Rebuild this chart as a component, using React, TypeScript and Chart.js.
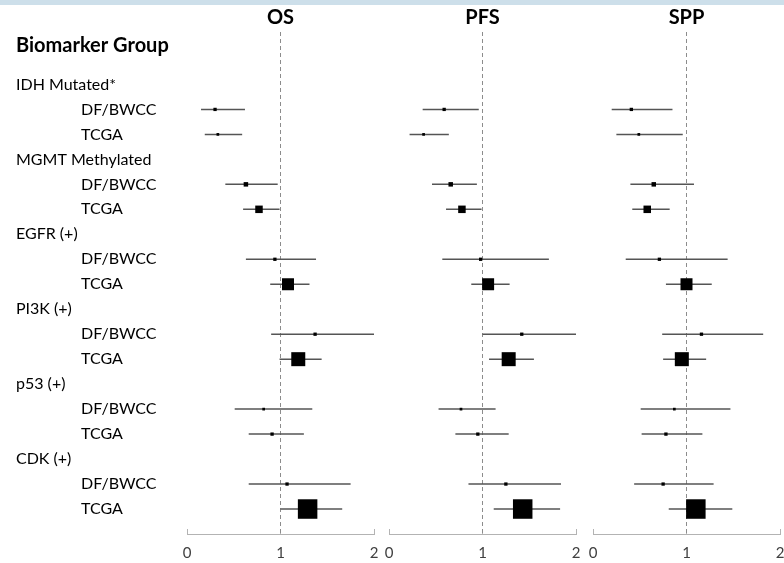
import { useEffect, useRef } from 'react';
import { Chart, registerables } from 'chart.js';

Chart.register(...registerables);

// ---------- data ----------
const headerLabel = 'Biomarker Group';
const groupLabels = ['IDH Mutated*', 'MGMT Methylated', 'EGFR (+)', 'PI3K (+)', 'p53 (+)', 'CDK (+)'];
const cohortLabels = ['DF/BWCC', 'TCGA'];
const panelTitles = ['OS', 'PFS', 'SPP'];
const axisTicks = [0, 1, 2];
const referenceValue = 1;

// order: IDH DF, IDH TCGA, MGMT DF, MGMT TCGA, EGFR DF, EGFR TCGA,
//        PI3K DF, PI3K TCGA, p53 DF, p53 TCGA, CDK DF, CDK TCGA
const osEstimate = [0.30, 0.33, 0.63, 0.77, 0.94, 1.08, 1.37, 1.19, 0.82, 0.91, 1.07, 1.29];
const osLower = [0.15, 0.19, 0.41, 0.60, 0.63, 0.89, 0.90, 0.99, 0.51, 0.66, 0.66, 1.00];
const osUpper = [0.62, 0.59, 0.97, 0.99, 1.38, 1.31, 2.00, 1.44, 1.34, 1.25, 1.75, 1.66];

const pfsEstimate = [0.59, 0.37, 0.66, 0.78, 0.98, 1.06, 1.42, 1.28, 0.77, 0.95, 1.25, 1.43];
const pfsLower = [0.36, 0.22, 0.46, 0.61, 0.57, 0.88, 1.00, 1.07, 0.53, 0.71, 0.85, 1.12];
const pfsUpper = [0.96, 0.64, 0.94, 0.99, 1.71, 1.29, 2.00, 1.55, 1.14, 1.28, 1.84, 1.83];

const sppEstimate = [0.41, 0.49, 0.65, 0.58, 0.71, 1.00, 1.16, 0.95, 0.87, 0.78, 0.75, 1.10];
const sppLower = [0.20, 0.25, 0.40, 0.42, 0.35, 0.78, 0.74, 0.75, 0.51, 0.52, 0.44, 0.81];
const sppUpper = [0.85, 0.96, 1.08, 0.82, 1.44, 1.27, 1.82, 1.21, 1.47, 1.17, 1.29, 1.49];

// ---------- styles / layout ----------
const markerSides = [3.3, 2.7, 4.5, 7.5, 3.3, 12, 3.3, 14, 2.7, 3.3, 3.3, 19.5];
const FONT = "Lato, 'Open Sans', sans-serif";
const HEADER_POS = -1.56;
const Y_MIN = -2.1;
const Y_MAX = 18;
const PANELS = [
  { left: 0, width: 381, pad: { left: 16, right: 7, top: 0, bottom: 0 } },
  { left: 381, width: 203, pad: { left: 8, right: 8, top: 0, bottom: 0 } },
  { left: 584, width: 204, pad: { left: 9, right: 8, top: 0, bottom: 0 } },
];
const HEIGHT = 563;

const panelData = [
  { est: osEstimate, lo: osLower, hi: osUpper },
  { est: pfsEstimate, lo: pfsLower, hi: pfsUpper },
  { est: sppEstimate, lo: sppLower, hi: sppUpper },
];

const seriesRow = (k: number) => Math.floor(k / 2) * 3 + 1 + (k % 2);
const groupRows = [HEADER_POS, ...groupLabels.map((_, g) => g * 3)];
const groupTickLabels = [headerLabel, ...groupLabels];
const subRows: number[] = [];
const subTickLabels: string[] = [];
groupLabels.forEach((_, g) => {
  cohortLabels.forEach((c, j) => {
    subRows.push(g * 3 + 1 + j);
    subTickLabels.push(c);
  });
});

const zeroSidePadding = (s: any) => {
  s.paddingLeft = 0;
  s.paddingRight = 0;
};

function makeConfig(i: number): any {
  const { est, lo, hi } = panelData[i];
  const showLabels = i === 0;

  const datasets: any[] = [];
  datasets.push({
    label: 'estimate',
    data: est.map((v, k) => ({ x: v, y: seriesRow(k) })),
    pointStyle: 'rect',
    pointRadius: markerSides.map((s) => s / Math.SQRT2),
    pointHoverRadius: markerSides.map((s) => s / Math.SQRT2),
    backgroundColor: '#000000',
    borderColor: '#000000',
    borderWidth: 0,
    showLine: false,
    clip: false,
  });
  est.forEach((_, k) => {
    datasets.push({
      label: 'ci' + k,
      data: [
        { x: lo[k], y: seriesRow(k) },
        { x: hi[k], y: seriesRow(k) },
      ],
      showLine: true,
      borderColor: '#555555',
      borderWidth: 1.5,
      pointRadius: 0,
      pointHoverRadius: 0,
    });
  });
  datasets.push({
    label: 'reference',
    data: [
      { x: referenceValue, y: Y_MIN },
      { x: referenceValue, y: Y_MAX },
    ],
    showLine: true,
    borderColor: '#8c8c8c',
    borderWidth: 1,
    borderDash: [4, 3],
    pointRadius: 0,
    pointHoverRadius: 0,
  });

  const scales: any = {
    x: {
      type: 'linear',
      position: 'bottom',
      min: 0,
      max: 2,
      afterBuildTicks: (s: any) => {
        s.ticks = axisTicks.map((v) => ({ value: v }));
      },
      ticks: {
        autoSkip: false,
        maxRotation: 0,
        padding: 2,
        color: '#404040',
        font: { family: FONT, size: 15, lineHeight: 3 },
        callback: (v: any) => String(v),
      },
      grid: {
        display: true,
        drawOnChartArea: false,
        drawTicks: true,
        tickLength: -5,
        color: '#b3b3b3',
        lineWidth: 1,
      },
      border: { display: true, color: '#b3b3b3', width: 1 },
      afterFit: (s: any) => {
        s.height = 29;
        zeroSidePadding(s);
      },
    },
    xTop: {
      type: 'linear',
      position: 'top',
      min: 0,
      max: 2,
      ticks: { display: false },
      grid: { display: false, drawTicks: false },
      border: { display: false },
      title: {
        display: true,
        text: panelTitles[i],
        color: '#000000',
        font: { family: FONT, size: 20, weight: 'bold' },
        padding: { top: 6, bottom: 0 },
      },
      afterFit: (s: any) => {
        s.height = 32;
        zeroSidePadding(s);
      },
    },
    y: {
      type: 'linear',
      position: 'left',
      display: showLabels,
      weight: 0,
      min: Y_MIN,
      max: Y_MAX,
      reverse: true,
      afterBuildTicks: (s: any) => {
        s.ticks = subRows.map((v) => ({ value: v }));
      },
      ticks: {
        autoSkip: false,
        crossAlign: 'far',
        padding: 0,
        color: '#000000',
        font: { family: FONT, size: 16 },
        callback: (_v: any, idx: number) => subTickLabels[idx],
      },
      grid: { display: false, drawTicks: false },
      border: { display: false },
      afterFit: (s: any) => {
        if (showLabels) s.width = 106;
      },
    },
  };

  if (showLabels) {
    scales.yGroup = {
      type: 'linear',
      position: 'left',
      display: true,
      weight: 1,
      min: Y_MIN,
      max: Y_MAX,
      reverse: true,
      afterBuildTicks: (s: any) => {
        s.ticks = groupRows.map((v) => ({ value: v }));
      },
      ticks: {
        autoSkip: false,
        mirror: true,
        crossAlign: 'near',
        padding: -65,
        color: '#000000',
        font: (ctx: any) =>
          ctx.index === 0
            ? { family: FONT, size: 20, weight: 'bold' }
            : { family: FONT, size: 16 },
        callback: (_v: any, idx: number) => groupTickLabels[idx],
      },
      grid: { display: false, drawTicks: false },
      border: { display: false },
      afterFit: (s: any) => {
        s.width = 65;
      },
    };
  }

  return {
    type: 'scatter',
    data: { datasets },
    options: {
      responsive: false,
      maintainAspectRatio: false,
      animation: false,
      devicePixelRatio: 1,
      layout: { padding: PANELS[i].pad, autoPadding: false },
      plugins: {
        legend: { display: false },
        tooltip: { enabled: false },
        title: { display: false },
      },
      events: [],
      scales,
    },
  };
}

export default function App() {
  const r0 = useRef<HTMLCanvasElement | null>(null);
  const r1 = useRef<HTMLCanvasElement | null>(null);
  const r2 = useRef<HTMLCanvasElement | null>(null);
  const refs = [r0, r1, r2];

  useEffect(() => {
    const charts = refs.map((r, i) => new Chart(r.current as HTMLCanvasElement, makeConfig(i)));
    return () => charts.forEach((c) => c.destroy());
  }, []);

  return (
    <div
      style={{
        position: 'absolute',
        left: 0,
        top: 0,
        width: 784,
        height: HEIGHT,
        overflow: 'hidden',
        background: '#ffffff',
      }}
    >
      <div
        style={{
          position: 'absolute',
          left: 0,
          top: 0,
          width: 784,
          height: 5,
          background: '#cddfea',
        }}
      />
      {PANELS.map((p, i) => (
        <canvas
          key={i}
          ref={refs[i]}
          width={p.width}
          height={HEIGHT}
          style={{ position: 'absolute', left: p.left, top: 0, width: p.width, height: HEIGHT }}
        />
      ))}
    </div>
  );
}
